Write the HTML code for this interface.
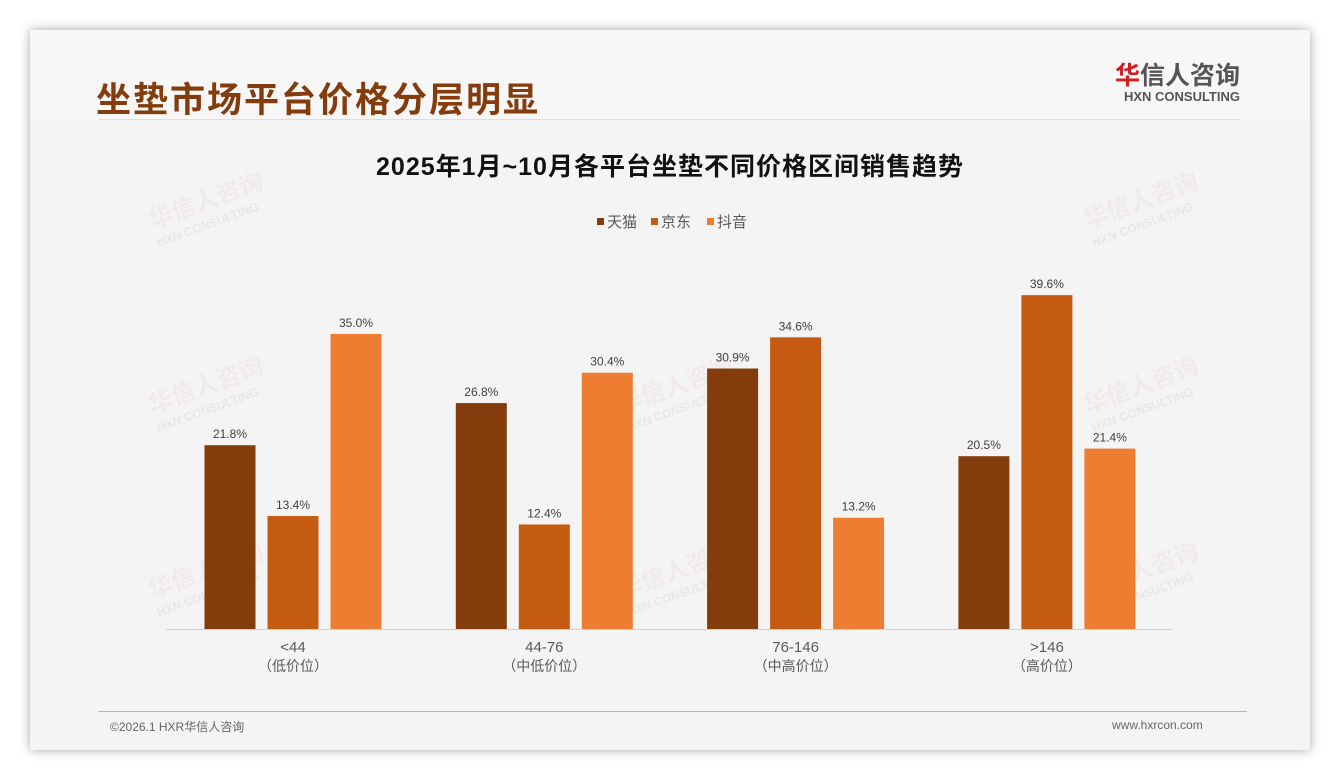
<!DOCTYPE html>
<html><head><meta charset="utf-8"><style>
body{margin:0;width:1340px;height:780px;background:#fff;font-family:"Liberation Sans","Noto Sans CJK SC",sans-serif;overflow:hidden;position:relative}
#card{position:absolute;left:30px;top:30px;width:1280px;height:720px;background:#f4f4f4;box-shadow:0 0 10px rgba(0,0,0,.35)}
.abs{position:absolute}
.wm{position:absolute;transform:rotate(-20deg);color:rgba(220,150,150,.10);font-weight:bold;font-size:24px;line-height:22px}
.wm small{display:block;font-size:12px;color:rgba(170,170,170,.18)}
</style></head><body>
<div id="card">
 <div class="abs" style="left:0;top:0;width:1280px;height:90px;background:#f7f7f7"></div>
</div>
<div class="abs" style="left:96px;top:72px;font-size:35px;font-weight:bold;color:#843c0c;letter-spacing:2px">坐垫市场平台价格分层明显</div>
<div class="abs" style="left:98px;top:119px;width:1142px;height:1px;background:#ddd"></div>
<div class="abs" style="left:1100px;top:63px;text-align:right;width:140px">
 <div style="font-size:25px;font-weight:bold;color:#555;line-height:26px"><span style="color:#d01c1c">华</span>信人咨询</div>
 <div style="font-size:13px;font-weight:bold;color:#555;line-height:16px">HXN CONSULTING</div>
</div>
<div class="wm" style="left:150px;top:190px">华信人咨询<small>HXN CONSULTING</small></div>
<div class="wm" style="left:1085px;top:190px">华信人咨询<small>HXN CONSULTING</small></div>
<div class="wm" style="left:150px;top:375px">华信人咨询<small>HXN CONSULTING</small></div>
<div class="wm" style="left:620px;top:375px">华信人咨询<small>HXN CONSULTING</small></div>
<div class="wm" style="left:1085px;top:375px">华信人咨询<small>HXN CONSULTING</small></div>
<div class="wm" style="left:150px;top:560px">华信人咨询<small>HXN CONSULTING</small></div>
<div class="wm" style="left:620px;top:560px">华信人咨询<small>HXN CONSULTING</small></div>
<div class="wm" style="left:1085px;top:560px">华信人咨询<small>HXN CONSULTING</small></div>
<svg id="chart" class="abs" style="left:0;top:0" width="1340" height="780">
 <text x="670" y="175" text-anchor="middle" font-size="25" font-weight="bold" fill="#111" letter-spacing="1">2025年1月~10月各平台坐垫不同价格区间销售趋势</text>
 <g id="legend"></g>
 <g id="bars"></g>
 <line x1="166" y1="629.5" x2="1173" y2="629.5" stroke="#d0d0d0"/>
</svg>
<div class="abs" style="left:98px;top:711px;width:1149px;height:1px;background:#e0a888"></div>
<div class="abs" style="left:110px;top:718px;font-size:12px;color:#666">©2026.1 HXR华信人咨询</div>
<div class="abs" style="left:1112px;top:718px;font-size:12px;color:#666">www.hxrcon.com</div>
<script>
const categories=["<44","44-76","76-146",">146"];
const subLabels=["（低价位）","（中低价位）","（中高价位）","（高价位）"];
const seriesNames=["天猫","京东","抖音"];
const tmall=[21.8,26.8,30.9,20.5];
const jd=[13.4,12.4,34.6,39.6];
const douyin=[35.0,30.4,13.2,21.4];
const series=[tmall,jd,douyin];
const colors=["#843c0c","#c55a11","#ed7d31"];
const NS="http://www.w3.org/2000/svg";
const baseY=629,pxPer=8.43,g0=293,gStep=251.3,barW=51,off=63;
const y=v=>baseY-v*pxPer;
const xc=(gi,si)=>g0+gi*gStep+(si-1)*off;
const bars=document.getElementById('bars');
function mk(tag,attrs,parent){const e=document.createElementNS(NS,tag);for(const k in attrs)e.setAttribute(k,attrs[k]);parent.appendChild(e);return e;}
series.forEach((vals,si)=>{vals.forEach((v,gi)=>{
 const r=mk('rect',{x:xc(gi,si)-barW/2,y:y(v),width:barW,height:v*pxPer,fill:colors[si]},bars);
 
 
 const t=mk('text',{x:xc(gi,si),y:y(v)-7,'text-anchor':'middle','font-size':12,fill:'#404040'},bars);
 t.textContent=v.toFixed(1)+'%';
 
 
});});
categories.forEach((c,gi)=>{
 const cx=g0+gi*gStep;
 const t=mk('text',{x:cx,y:652,'text-anchor':'middle','font-size':15,fill:'#595959'},bars);
 t.textContent=c;
 
 
 const s=mk('text',{x:cx,y:671,'text-anchor':'middle','font-size':14,fill:'#595959'},bars);
 s.textContent=subLabels[gi];
 
 
});
const lg=document.getElementById('legend');
const lx=[597,651,707];
seriesNames.forEach((n,i)=>{
 const r=mk('rect',{x:lx[i],y:218,width:7,height:7,fill:colors[i]},lg);
 
 
 const t=mk('text',{x:lx[i]+10,y:227,'font-size':15,fill:'#595959'},lg);
 t.textContent=n;
 
 
});
</script>
</body></html>
